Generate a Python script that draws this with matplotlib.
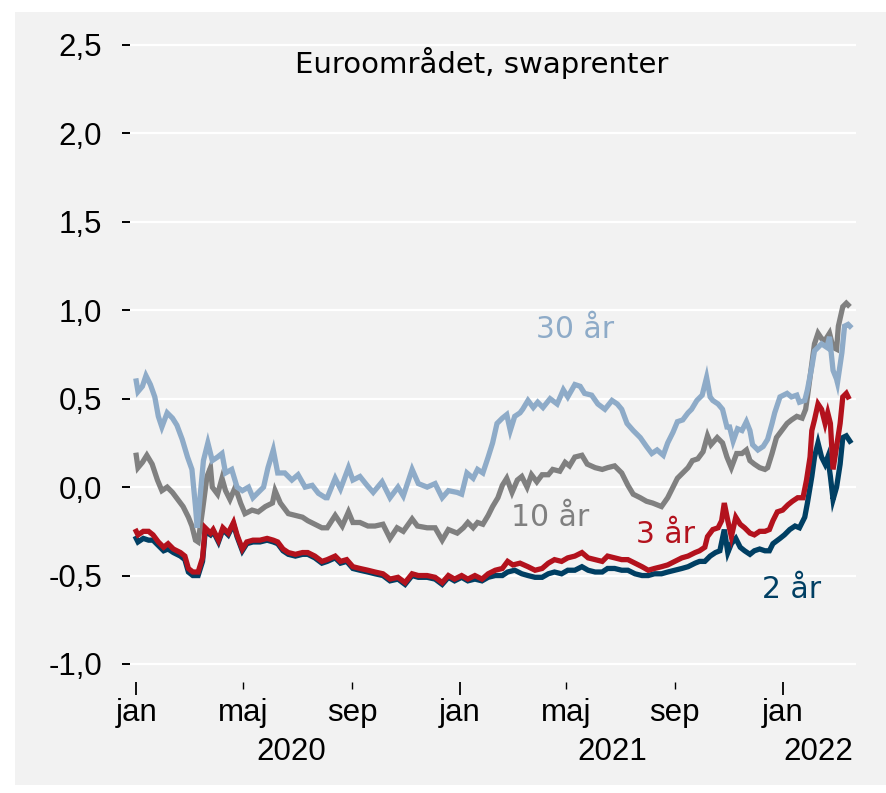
import pandas as pd
import matplotlib
matplotlib.use("Agg")
import matplotlib.pyplot as plt
from matplotlib.patches import Rectangle

# Data: dage efter 1. jan 2020 og rente i pct.
start = pd.Timestamp("2020-01-01")

dage_30 = [0, 2, 7, 11, 16, 21, 25, 29, 35, 41, 46, 52, 58, 63, 67, 69, 76, 81, 86, 92,
           97, 101, 108, 114, 120, 127, 132, 138, 144, 149, 155, 160, 168, 176, 183, 191,
           199, 206, 214, 216, 225, 231, 240, 245, 253, 261, 268, 278, 287, 296, 302, 312,
           319, 329, 338, 346, 353, 363, 368, 374, 381, 386, 392, 398, 403, 408, 414, 419,
           423, 428, 434, 437, 443, 449, 454, 460, 468, 476, 483, 488, 496, 502, 507, 515,
           522, 530, 538, 544, 549, 555, 562, 570, 577, 583, 589, 596, 601, 607, 612, 618,
           624, 628, 634, 640, 645, 649, 652, 658, 663, 668, 671, 675, 680, 685, 690, 694,
           697, 703, 709, 714, 719, 722, 728, 736, 741, 747, 750, 756, 759, 764, 767, 771,
           775, 781, 784, 788, 792, 793, 798, 801, 805, 807]
rente_30 = [0.60, 0.54, 0.57, 0.63, 0.58, 0.51, 0.40, 0.34, 0.42, 0.39, 0.35, 0.27, 0.17, 0.10,
            -0.11, -0.23, 0.15, 0.25, 0.15, 0.17, 0.19, 0.08, 0.10, 0.00, -0.02, 0.00, -0.06,
            -0.03, 0.00, 0.11, 0.21, 0.08, 0.08, 0.04, 0.07, 0.00, 0.01, -0.035, -0.06, -0.06,
            0.05, -0.01, 0.11, 0.04, 0.06, 0.01, -0.03, 0.03, -0.06, 0.00, -0.05, 0.10, 0.02,
            0.00, 0.02, -0.06, -0.02, -0.03, -0.04, 0.08, 0.05, 0.10, 0.08, 0.17, 0.25, 0.36,
            0.39, 0.41, 0.32, 0.40, 0.42, 0.44, 0.49, 0.45, 0.48, 0.45, 0.50, 0.47, 0.55, 0.51,
            0.58, 0.57, 0.53, 0.52, 0.47, 0.44, 0.49, 0.47, 0.44, 0.36, 0.32, 0.28, 0.23, 0.19,
            0.21, 0.18, 0.25, 0.31, 0.37, 0.38, 0.42, 0.44, 0.49, 0.52, 0.62, 0.51, 0.49, 0.47,
            0.44, 0.34, 0.34, 0.26, 0.33, 0.32, 0.37, 0.32, 0.24, 0.21, 0.23, 0.27, 0.36, 0.42,
            0.51, 0.53, 0.51, 0.52, 0.48, 0.49, 0.55, 0.68, 0.77, 0.79, 0.81, 0.79, 0.85, 0.66,
            0.61, 0.59, 0.76, 0.91, 0.92, 0.91]

dage_10 = [0, 2, 7, 12, 18, 24, 29, 35, 41, 47, 53, 59, 63, 67, 70, 75, 80, 84, 86, 92, 97,
           101, 106, 112, 118, 123, 131, 138, 146, 154, 157, 163, 172, 180, 188, 194, 202,
           210, 216, 225, 233, 240, 245, 253, 262, 270, 279, 287, 295, 302, 312, 318, 329,
           338, 346, 353, 363, 370, 375, 381, 386, 392, 398, 403, 409, 414, 419, 425, 431,
           436, 442, 447, 453, 459, 466, 471, 479, 485, 490, 496, 504, 510, 519, 527, 533,
           541, 549, 556, 562, 570, 577, 584, 594, 601, 607, 612, 618, 624, 629, 635, 641,
           646, 650, 657, 663, 668, 673, 679, 685, 690, 694, 699, 705, 711, 714, 719, 724,
           730, 736, 741, 747, 753, 757, 759, 764, 767, 771, 775, 779, 784, 788, 792, 794,
           799, 803, 805]
rente_10 = [0.18, 0.11, 0.14, 0.18, 0.13, 0.04, -0.02, 0.00, -0.03, -0.07, -0.11, -0.17, -0.22,
            -0.30, -0.31, -0.13, 0.06, 0.11, 0.00, -0.04, 0.05, -0.02, -0.07, 0.00, -0.09, -0.15,
            -0.13, -0.14, -0.11, -0.09, -0.02, -0.09, -0.15, -0.16, -0.17, -0.19, -0.21, -0.23,
            -0.23, -0.16, -0.22, -0.14, -0.20, -0.20, -0.22, -0.22, -0.21, -0.29, -0.23, -0.25,
            -0.18, -0.22, -0.23, -0.23, -0.30, -0.24, -0.26, -0.23, -0.20, -0.23, -0.20, -0.21,
            -0.16, -0.11, -0.06, 0.01, 0.05, -0.03, 0.04, 0.06, 0.00, 0.07, 0.03, 0.07, 0.07,
            0.10, 0.09, 0.14, 0.12, 0.17, 0.18, 0.13, 0.11, 0.10, 0.11, 0.12, 0.08, 0.01, -0.04,
            -0.06, -0.08, -0.09, -0.11, -0.06, 0.00, 0.05, 0.08, 0.11, 0.15, 0.16, 0.20, 0.29,
            0.24, 0.28, 0.25, 0.17, 0.11, 0.19, 0.19, 0.21, 0.15, 0.13, 0.11, 0.10, 0.11, 0.19,
            0.28, 0.32, 0.36, 0.38, 0.40, 0.39, 0.44, 0.51, 0.70, 0.81, 0.87, 0.84, 0.83, 0.87,
            0.79, 0.78, 0.91, 1.02, 1.04, 1.03]

dage_3 = [0, 2, 8, 14, 19, 25, 31, 36, 42, 50, 55, 59, 64, 70, 75, 78, 84, 87, 93, 98, 104,
          110, 114, 120, 125, 132, 140, 148, 155, 160, 166, 172, 180, 188, 194, 202, 210, 216,
          225, 231, 238, 245, 253, 262, 270, 279, 287, 296, 304, 312, 319, 329, 338, 346, 353,
          360, 368, 375, 383, 391, 398, 406, 414, 420, 426, 434, 443, 451, 459, 466, 473, 481,
          488, 496, 504, 511, 519, 527, 533, 541, 549, 556, 564, 572, 579, 586, 594, 601, 609,
          617, 624, 632, 637, 643, 646, 652, 658, 662, 665, 669, 673, 678, 683, 688, 694, 699,
          705, 711, 716, 720, 725, 731, 737, 742, 748, 754, 758, 762, 764, 767, 771, 775, 779,
          782, 785, 788, 792, 796, 799, 803, 805]
rente_3 = [-0.25, -0.27, -0.25, -0.25, -0.27, -0.31, -0.34, -0.32, -0.35, -0.37, -0.39, -0.46,
           -0.48, -0.48, -0.40, -0.23, -0.26, -0.24, -0.30, -0.23, -0.26, -0.20, -0.27, -0.35,
           -0.31, -0.30, -0.30, -0.29, -0.30, -0.31, -0.35, -0.37, -0.38, -0.37, -0.37, -0.39,
           -0.42, -0.41, -0.39, -0.42, -0.41, -0.45, -0.46, -0.47, -0.48, -0.49, -0.52, -0.51,
           -0.54, -0.49, -0.50, -0.50, -0.51, -0.54, -0.50, -0.52, -0.50, -0.52, -0.50, -0.52,
           -0.49, -0.47, -0.46, -0.42, -0.44, -0.43, -0.45, -0.47, -0.46, -0.43, -0.41, -0.42,
           -0.40, -0.39, -0.37, -0.40, -0.41, -0.42, -0.39, -0.40, -0.41, -0.41, -0.43, -0.45,
           -0.47, -0.46, -0.45, -0.44, -0.42, -0.40, -0.39, -0.37, -0.36, -0.34, -0.28, -0.24,
           -0.23, -0.19, -0.09, -0.19, -0.28, -0.17, -0.21, -0.23, -0.26, -0.27, -0.25, -0.25,
           -0.24, -0.19, -0.14, -0.13, -0.10, -0.08, -0.06, -0.06, 0.04, 0.17, 0.32, 0.38, 0.47,
           0.44, 0.36, 0.42, 0.36, 0.10, 0.23, 0.36, 0.51, 0.53, 0.51]

dage_2 = [0, 2, 8, 14, 19, 25, 31, 36, 42, 50, 55, 59, 64, 70, 75, 78, 84, 87, 93, 98, 104,
          110, 114, 120, 125, 132, 140, 148, 155, 160, 166, 172, 180, 188, 194, 202, 210, 216,
          225, 231, 238, 245, 253, 262, 270, 279, 287, 296, 304, 312, 319, 329, 338, 346, 353,
          360, 368, 375, 383, 391, 398, 406, 414, 420, 428, 436, 443, 451, 459, 466, 473, 481,
          488, 496, 504, 511, 519, 527, 533, 541, 549, 556, 564, 572, 579, 586, 594, 601, 609,
          617, 624, 632, 637, 643, 649, 655, 660, 665, 669, 673, 678, 683, 688, 694, 699, 705,
          711, 716, 720, 728, 733, 739, 745, 750, 756, 759, 764, 767, 771, 775, 779, 782, 785,
          788, 792, 796, 799, 803, 807]
rente_2 = [-0.29, -0.31, -0.29, -0.30, -0.30, -0.33, -0.36, -0.35, -0.37, -0.39, -0.41, -0.48,
           -0.50, -0.50, -0.42, -0.25, -0.27, -0.25, -0.31, -0.24, -0.27, -0.21, -0.28, -0.36,
           -0.32, -0.31, -0.31, -0.30, -0.31, -0.32, -0.36, -0.38, -0.39, -0.38, -0.38, -0.40,
           -0.43, -0.42, -0.40, -0.43, -0.42, -0.46, -0.47, -0.48, -0.49, -0.50, -0.53, -0.52,
           -0.55, -0.50, -0.51, -0.51, -0.52, -0.55, -0.51, -0.53, -0.51, -0.53, -0.52, -0.53,
           -0.51, -0.50, -0.50, -0.48, -0.47, -0.49, -0.50, -0.51, -0.51, -0.49, -0.48, -0.49,
           -0.47, -0.47, -0.45, -0.47, -0.48, -0.48, -0.46, -0.46, -0.47, -0.47, -0.49, -0.50,
           -0.50, -0.49, -0.49, -0.48, -0.47, -0.46, -0.45, -0.43, -0.42, -0.42, -0.39, -0.37,
           -0.36, -0.24, -0.37, -0.32, -0.29, -0.34, -0.36, -0.38, -0.36, -0.35, -0.36, -0.36,
           -0.32, -0.29, -0.27, -0.24, -0.22, -0.23, -0.17, -0.09, 0.06, 0.17, 0.25, 0.17, 0.13,
           0.17, 0.06, -0.07, 0.00, 0.13, 0.28, 0.29, 0.26]

serier = [
    ("10 år", dage_10, rente_10, "#808080"),
    ("30 år", dage_30, rente_30, "#8eabc8"),
    ("2 år", dage_2, rente_2, "#003f63"),
    ("3 år", dage_3, rente_3, "#b3121d"),
]

# navn, dag, niveau for etiketterne
etiketter = [
    ("30 år", 496, 0.89, "#8eabc8"),
    ("10 år", 468, -0.17, "#808080"),
    ("3 år", 598, -0.27, "#b3121d"),
    ("2 år", 741, -0.58, "#003f63"),
]

y_ticks = [-1.0, -0.5, 0.0, 0.5, 1.0, 1.5, 2.0, 2.5]
maaned_ticks = ["2020-01-01", "2020-05-01", "2020-09-01", "2021-01-01",
                "2021-05-01", "2021-09-01", "2022-01-01"]
maaned_labels = ["jan", "maj", "sep", "jan", "maj", "sep", "jan"]
aar = [("2020", "2020-06-24"), ("2021", "2021-06-22"), ("2022", "2022-02-10")]

tekst_font = ["Liberation Sans", "DejaVu Sans"]
titel_font = ["DejaVu Sans"]


def datoer(dage):
    return start + pd.to_timedelta(dage, unit="D")


fig = plt.figure(figsize=(8.87, 7.93), dpi=100)
fig.patches.append(Rectangle((15 / 887, 8 / 793), 872 / 887, 773 / 793,
                             transform=fig.transFigure, facecolor="#f2f2f2",
                             edgecolor="none", zorder=-10))

ax = fig.add_axes([0.1466, 0.1404, 0.8185, 0.8252])
ax.set_facecolor("none")
for s in ax.spines.values():
    s.set_visible(False)

for y in y_ticks:
    ax.axhline(y, color="white", lw=1.6, zorder=1)

for navn, dage, rente, farve in serier:
    ax.plot(datoer(dage), rente, color=farve, lw=3.8, zorder=3,
            solid_joinstyle="miter")

ax.set_ylim(-1.1, 2.6)
ax.set_xlim(start - pd.Timedelta(days=7), start + pd.Timedelta(days=814))

ax.set_yticks(y_ticks)
ax.set_yticklabels([f"{v:.1f}".replace(".", ",") for v in y_ticks],
                   family=tekst_font, fontsize=22.5)
ax.tick_params(axis="y", length=6, width=1.4, pad=14, color="black")

major = [pd.Timestamp(d) for d in maaned_ticks if d.endswith("01-01")]
minor = [pd.Timestamp(d) for d in maaned_ticks if not d.endswith("01-01")]
ax.set_xticks(major)
ax.set_xticklabels(["jan"] * len(major), family=tekst_font, fontsize=22.5)
ax.set_xticks(minor, minor=True)
ax.set_xticklabels([l for d, l in zip(maaned_ticks, maaned_labels) if not d.endswith("01-01")],
                   minor=True, family=tekst_font, fontsize=22.5)
ax.tick_params(axis="x", which="major", length=9, width=1.3, pad=3)
ax.tick_params(axis="x", which="minor", length=5, width=1.0, pad=7)

for tekst, dato in aar:
    ax.text(pd.Timestamp(dato), -0.108, tekst, transform=ax.get_xaxis_transform(),
            ha="center", va="center", family=tekst_font, fontsize=22.5)

ax.text(0.485, 0.946, "Euroområdet, swaprenter", transform=ax.transAxes,
        ha="center", va="center", family=titel_font, fontsize=21, weight="medium")

for tekst, dag, niveau, farve in etiketter:
    ax.text(start + pd.Timedelta(days=dag), niveau, tekst, color=farve,
            ha="center", va="center", family=titel_font, fontsize=21.5)

fig.savefig("out.png", dpi=100)
